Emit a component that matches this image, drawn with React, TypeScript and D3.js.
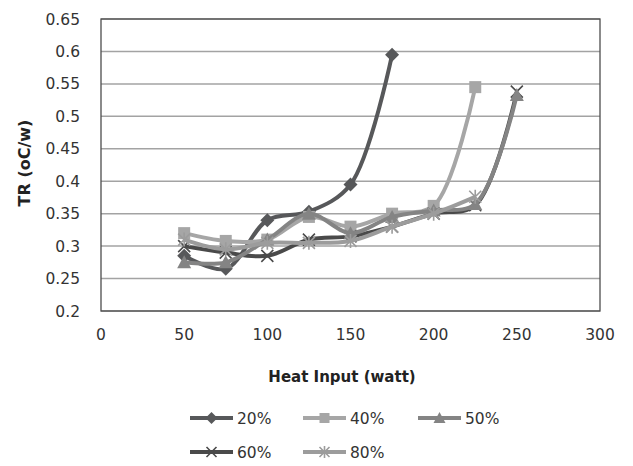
import React from "react";
import * as d3 from "d3";

const heatInput = [50, 75, 100, 125, 150, 175, 200, 225, 250];
const tr20 = [0.285, 0.265, 0.34, 0.353, 0.395, 0.595];
const tr40 = [0.32, 0.308, 0.31, 0.345, 0.33, 0.35, 0.362, 0.545];
const tr50 = [0.275, 0.275, 0.31, 0.35, 0.32, 0.345, 0.355, 0.365, 0.533];
const tr60 = [0.3, 0.29, 0.285, 0.31, 0.315, 0.33, 0.35, 0.363, 0.538];
const tr80 = [0.31, 0.295, 0.305, 0.305, 0.308, 0.33, 0.35, 0.376];

const seriesNames = ["20%", "40%", "50%", "60%", "80%"];
const xTicks = [0, 50, 100, 150, 200, 250, 300];
const yTicks = [0.2, 0.25, 0.3, 0.35, 0.4, 0.45, 0.5, 0.55, 0.6, 0.65];

const W = 633;
const H = 466;
const plot = { left: 101, right: 600, top: 19, bottom: 311 };
const FONT = "DejaVu Sans, Verdana, sans-serif";

type Marker = "diamond" | "square" | "triangle" | "x" | "star";

const styles: { color: string; marker: Marker }[] = [
  { color: "#57585a", marker: "diamond" },
  { color: "#a6a6a6", marker: "square" },
  { color: "#848484", marker: "triangle" },
  { color: "#4a4a4a", marker: "x" },
  { color: "#9c9c9c", marker: "star" },
];

// draw order: the 50% curve sits above the 60% curve, as in the finished chart
const drawOrder = [0, 1, 3, 2, 4];

function MarkerShape({ type, color, cx, cy, s = 6 }: { type: Marker; color: string; cx: number; cy: number; s?: number }) {
  switch (type) {
    case "diamond":
      return <path d={`M${cx},${cy - s - 1}L${cx + s + 1},${cy}L${cx},${cy + s + 1}L${cx - s - 1},${cy}Z`} fill={color} />;
    case "square":
      return <rect x={cx - s} y={cy - s} width={2 * s} height={2 * s} fill={color} />;
    case "triangle":
      return <path d={`M${cx},${cy - s - 1}L${cx + s + 1},${cy + s}L${cx - s - 1},${cy + s}Z`} fill={color} />;
    case "x":
      return (
        <path
          d={`M${cx - s},${cy - s}L${cx + s},${cy + s}M${cx - s},${cy + s}L${cx + s},${cy - s}`}
          stroke={color}
          strokeWidth={1.6}
        />
      );
    case "star":
      return (
        <path
          d={`M${cx - s},${cy - s}L${cx + s},${cy + s}M${cx - s},${cy + s}L${cx + s},${cy - s}M${cx},${cy - s - 1}L${cx},${cy + s + 1}`}
          stroke={color}
          strokeWidth={1.6}
        />
      );
  }
}

export default function App() {
  const x = d3.scaleLinear().domain([0, 300]).range([plot.left, plot.right]);
  const y = d3.scaleLinear().domain([0.2, 0.65]).range([plot.bottom, plot.top]);

  const allSeries = [tr20, tr40, tr50, tr60, tr80];
  const line = d3
    .line<[number, number]>()
    .x((d) => x(d[0]))
    .y((d) => y(d[1]))
    .curve(d3.curveCatmullRom.alpha(0.5));

  const legendItems = seriesNames.map((name, i) => ({
    name,
    style: styles[i],
    lx: i % 3 === 0 ? 190 : i % 3 === 1 ? 303 : 418,
    ly: i < 3 ? 418 : 452,
  }));

  return (
    <svg
      width={W}
      height={H}
      style={{ position: "absolute", left: 0, top: 0, background: "#fff" }}
      fontFamily={FONT}
    >
      {/* horizontal gridlines */}
      {yTicks.map((t) => (
        <line key={t} x1={plot.left} x2={plot.right} y1={y(t)} y2={y(t)} stroke="#a3a3a3" strokeWidth={1.5} />
      ))}
      {/* plot frame */}
      <rect
        x={plot.left}
        y={plot.top}
        width={plot.right - plot.left}
        height={plot.bottom - plot.top}
        fill="none"
        stroke="#4d4d4d"
        strokeWidth={1.3}
      />
      {/* y tick labels */}
      {yTicks.map((t) => (
        <text key={t} x={80} y={y(t)} dy="0.36em" textAnchor="end" fontSize={15.5} fill="#333">
          {d3.format(".2~f")(t)}
        </text>
      ))}
      {/* x tick labels */}
      {xTicks.map((t) => (
        <text key={t} x={x(t)} y={340} textAnchor="middle" fontSize={15.5} fill="#333">
          {t}
        </text>
      ))}
      <text x={342} y={382} textAnchor="middle" fontSize={15} fontWeight="bold" fill="#222">
        Heat Input (watt)
      </text>
      <text
        transform={`translate(30,${163}) rotate(-90)`}
        textAnchor="middle"
        fontSize={16}
        fontWeight="bold"
        fill="#222"
      >
        TR (oC/w)
      </text>

      {/* series */}
      {drawOrder.map((i) => {
        const vals = allSeries[i];
        const pts: [number, number][] = vals.map((v, j) => [heatInput[j], v]);
        return (
          <g key={seriesNames[i]}>
            <path d={line(pts) ?? ""} fill="none" stroke={styles[i].color} strokeWidth={4} strokeLinejoin="round" />
            {pts.map((p, j) => (
              <MarkerShape key={j} type={styles[i].marker} color={styles[i].color} cx={x(p[0])} cy={y(p[1])} />
            ))}
          </g>
        );
      })}

      {/* legend */}
      {legendItems.map((it) => (
        <g key={it.name}>
          <line x1={it.lx} x2={it.lx + 43} y1={it.ly} y2={it.ly} stroke={it.style.color} strokeWidth={4} />
          <MarkerShape type={it.style.marker} color={it.style.color} cx={it.lx + 21.5} cy={it.ly} s={5} />
          <text x={it.lx + 47} y={it.ly} dy="0.36em" fontSize={15.5} fill="#333">
            {it.name}
          </text>
        </g>
      ))}
    </svg>
  );
}
